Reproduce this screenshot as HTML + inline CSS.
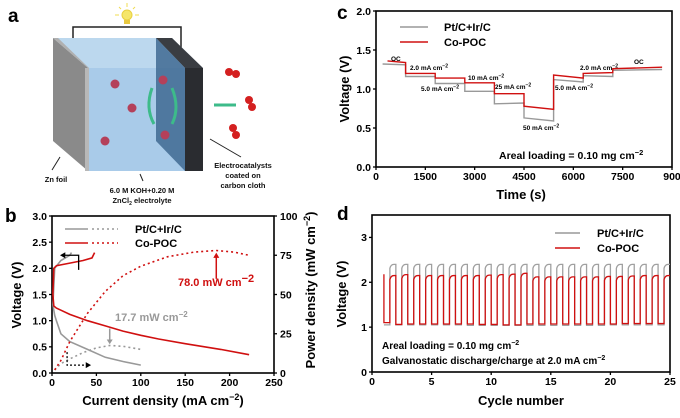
<!DOCTYPE html>
<html><head><meta charset="utf-8"><style>
body{margin:0;background:#fff}
svg{font-family:"Liberation Sans",Arial,sans-serif;font-weight:bold}
</style></head><body>
<svg id="s" width="680" height="413" viewBox="0 0 680 413" xmlns="http://www.w3.org/2000/svg">
<!-- Panel a illustration -->
<g>
<text x="8" y="22" font-size="19">a</text>
<polyline points="73,52 73,27 181,27 181,52" fill="none" stroke="#222" stroke-width="1.5"/>
<circle cx="127" cy="15" r="5" fill="#f5e66a" stroke="#e8d040"/>
<rect x="124" y="20" width="6" height="4" fill="#e8c840"/>
<g stroke="#f0dc50" stroke-width="1"><line x1="127" y1="3" x2="127" y2="7"/><line x1="115" y1="15" x2="119" y2="15"/><line x1="135" y1="15" x2="139" y2="15"/><line x1="119" y1="7" x2="121" y2="9"/><line x1="135" y1="7" x2="133" y2="9"/></g>
<polygon points="53,38 172,38 203,68 88,68" fill="#bcd8ee"/>
<rect x="88" y="68" width="115" height="103" fill="#a9cbe9"/>
<polygon points="156,38 172,38 203,68 185,68" fill="#3a3d42"/>
<rect x="185" y="68" width="18" height="103" fill="#2a2c30"/>
<polygon points="156,38 185,68 185,171 156,141" fill="#3f6a92" opacity="0.85"/>
<polygon points="53,38 88,68 88,171 53,141" fill="#8a8a8a"/>
<polygon points="53,38 58,38 89,68 88,68" fill="#b0b0b0"/>
<rect x="85" y="68" width="4" height="103" fill="#b8b8b8"/>
<g fill="#b4405a"><circle cx="115" cy="84" r="4.5"/><circle cx="132" cy="108" r="4.5"/><circle cx="105" cy="141" r="4.5"/><circle cx="163" cy="80" r="4.5"/><circle cx="165" cy="135" r="4.5"/></g>
<g fill="#d42020"><circle cx="229" cy="72" r="4"/><circle cx="236" cy="74" r="4"/><circle cx="249" cy="100" r="4"/><circle cx="252" cy="107" r="4"/><circle cx="233" cy="128" r="4"/><circle cx="236" cy="135" r="4"/></g>
<g stroke="#3dbb8a" stroke-width="3" fill="none"><path d="M152,88 Q145,108 154,124"/><path d="M172,88 Q180,108 172,124"/><line x1="214" y1="105" x2="236" y2="105"/></g>
<g stroke="#222" stroke-width="1"><line x1="60" y1="157" x2="52" y2="170"/><line x1="140" y1="174" x2="143" y2="181"/><line x1="210" y1="139" x2="241" y2="157"/></g>
<g font-size="7.5" text-anchor="middle" fill="#111">
<text x="56" y="182">Zn foil</text>
<text x="142" y="193">6.0 M KOH+0.20 M</text>
<text x="142" y="203">ZnCl<tspan font-size="5" dy="2">2</tspan><tspan dy="-2"> electrolyte</tspan></text>
<text x="243" y="168">Electrocatalysts</text>
<text x="243" y="178">coated on</text>
<text x="243" y="188">carbon cloth</text>
</g>
</g>
<g id="pb"></g>
<g id="pc"></g>
<g id="pd"></g>
</svg>
<script>
// ---- Panel b data ----
const bRedDisX=[1,2,5,10,20,40,60,80,100,120,150,190,222];
const bRedDisV=[1.5,1.28,1.24,1.2,1.12,1.0,0.9,0.8,0.72,0.65,0.56,0.45,0.35];
const bRedChX=[1,1.5,2,5,20,35,45,48];
const bRedChV=[1.5,1.75,2.0,2.05,2.1,2.15,2.2,2.3];
const bGrayDisX=[1,3,5,10,20,40,60,80,100];
const bGrayDisV=[1.3,1.1,1.0,0.75,0.6,0.45,0.3,0.22,0.15];
const bGrayChX=[1,3,10,20,22];
const bGrayChV=[1.3,2.0,2.15,2.25,2.3];
const bRedPX=[3,10,20,40,60,80,100,130,160,185,205,222];
const bRedP=[2,8,20,38,52,62,68,74,77,78,77,75];
const bGrayPX=[3,10,20,35,50,65,80,100];
const bGrayP=[2,6,9,13,16,17.5,17,15];
const bXTicks=[0,50,100,150,200,250];
const bYTicks=[0.0,0.5,1.0,1.5,2.0,2.5,3.0];
const bY2Ticks=[0,25,50,75,100];
// ---- Panel c data ----
const cGrayT=[200,900,900,1800,1800,2700,2700,3600,3600,4500,4500,5400,5400,6300,6300,7200,7200,8700];
const cGrayV=[1.32,1.31,1.16,1.16,1.07,1.07,0.97,0.97,0.81,0.82,0.63,0.59,1.12,1.09,1.17,1.16,1.24,1.25];
const cRedT=[350,900,900,1800,1800,2700,2700,3600,3600,4500,4500,5400,5400,6300,6300,7200,7200,8700];
const cRedV=[1.36,1.34,1.2,1.2,1.14,1.14,1.08,1.08,0.94,0.94,0.78,0.74,1.18,1.14,1.2,1.21,1.26,1.28];
const cXTicks=[0,1500,3000,4500,6000,7500,9000];
const cYTicks=[0.0,0.5,1.0,1.5,2.0];
// ---- Panel d data ----
const dCycles=[1,2,3,4,5,6,7,8,9,10,11,12,13,14,15,16,17,18,19,20,21,22,23,24];
const dRedHigh=[2.15,2.17,2.15,2.15,2.15,2.15,2.15,2.15,2.16,2.17,2.18,2.2,2.12,2.12,2.12,2.12,2.12,2.12,2.13,2.13,2.14,2.15,2.15,2.15];
const dRedLow=[1.1,1.06,1.07,1.07,1.07,1.07,1.07,1.07,1.06,1.06,1.05,1.05,1.07,1.07,1.07,1.07,1.07,1.07,1.07,1.07,1.08,1.08,1.08,1.08];
const dGrayHigh=[2.4,2.4,2.4,2.4,2.4,2.4,2.4,2.4,2.4,2.4,2.4,2.4,2.4,2.4,2.4,2.4,2.4,2.4,2.4,2.4,2.4,2.4,2.4,2.4];
const dGrayLow=[1.05,1.05,1.05,1.05,1.05,1.05,1.05,1.04,1.04,1.04,1.04,1.04,1.04,1.04,1.04,1.04,1.04,1.04,1.04,1.05,1.05,1.05,1.05,1.05];
const dXTicks=[0,5,10,15,20,25];
const dYTicks=[0,1,2,3];

const NS="http://www.w3.org/2000/svg";
function mk(parent,tag,attrs,text){const e=document.createElementNS(NS,tag);for(const k in attrs)e.setAttribute(k,attrs[k]);if(text!==undefined)e.textContent=text;parent.appendChild(e);return e;}
function lin(d0,d1,r0,r1){return v=>r0+(v-d0)/(d1-d0)*(r1-r0);}
function pts(xs,ys,fx,fy){return xs.map((x,i)=>fx(x).toFixed(1)+","+fy(ys[i]).toFixed(1)).join(" ");}
function axes(g,L,R,T,B,fx,fy,xt,yt,xfmt,yfmt){
  const f=mk(g,'rect',{x:L,y:T,width:R-L,height:B-T,fill:'none',stroke:'#000','stroke-width':1.6});
  
  
  xt.forEach(v=>{const x=fx(v);mk(g,'line',{x1:x,y1:B,x2:x,y2:B+3,stroke:'#000','stroke-width':1.3});
    const t=mk(g,'text',{x:x,y:B+13,'font-size':10.5,'text-anchor':'middle'},xfmt(v));
    
    });
  yt.forEach(v=>{const y=fy(v);mk(g,'line',{x1:L-3,y1:y,x2:L,y2:y,stroke:'#000','stroke-width':1.3});
    const t=mk(g,'text',{x:L-5,y:y+3.8,'font-size':10.5,'text-anchor':'end'},yfmt(v));
    
    });
}
// ---------- Panel b ----------
(function(){
const g=document.getElementById('pb');const L=52,R=274,T=216,B=373;
const fx=lin(0,250,L,R),fy=lin(0,3,B,T),fp=lin(0,100,B,T);
mk(g,'text',{x:5,y:222,'font-size':19},'b');
axes(g,L,R,T,B,fx,fy,bXTicks,bYTicks,v=>String(v),v=>v.toFixed(1));
bY2Ticks.forEach(v=>{const y=fp(v);mk(g,'line',{x1:R,y1:y,x2:R+3,y2:y,stroke:'#000','stroke-width':1.3});
  const t=mk(g,'text',{x:R+6,y:y+3.8,'font-size':10.5},String(v));
  
  });
const l1=mk(g,'polyline',{points:pts(bGrayDisX,bGrayDisV,fx,fy),fill:'none',stroke:'#999','stroke-width':1.6});


const l2=mk(g,'polyline',{points:pts(bGrayChX,bGrayChV,fx,fy),fill:'none',stroke:'#999','stroke-width':1.6});


const l3=mk(g,'polyline',{points:pts(bGrayPX,bGrayP,fx,fp),fill:'none',stroke:'#999','stroke-width':1.6,'stroke-dasharray':'2,3'});


const l4=mk(g,'polyline',{points:pts(bRedDisX,bRedDisV,fx,fy),fill:'none',stroke:'#d01010','stroke-width':1.6});


const l5=mk(g,'polyline',{points:pts(bRedChX,bRedChV,fx,fy),fill:'none',stroke:'#d01010','stroke-width':1.6});


const l6=mk(g,'polyline',{points:pts(bRedPX,bRedP,fx,fp),fill:'none',stroke:'#d01010','stroke-width':1.6,'stroke-dasharray':'2,3'});


// arrows
mk(g,'polyline',{points:`${fx(30)},${fy(1.97)} ${fx(30)},${fy(2.25)} ${fx(14)},${fy(2.25)}`,fill:'none',stroke:'#000','stroke-width':1.3});
mk(g,'polygon',{points:`${fx(9)},${fy(2.25)} ${fx(15)},${fy(2.25)-3} ${fx(15)},${fy(2.25)+3}`,fill:'#000'});
mk(g,'polyline',{points:`${fx(17)},${fy(0.4)} ${fx(17)},${fy(0.15)} ${fx(38)},${fy(0.15)}`,fill:'none',stroke:'#000','stroke-width':1.3,'stroke-dasharray':'2,2'});
mk(g,'polygon',{points:`${fx(44)},${fy(0.15)} ${fx(38)},${fy(0.15)-3} ${fx(38)},${fy(0.15)+3}`,fill:'#000'});
mk(g,'line',{x1:fx(185),y1:fy(1.8),x2:fx(185),y2:fy(2.22),stroke:'#d01010','stroke-width':1.5});
mk(g,'polygon',{points:`${fx(185)},${fy(2.3)} ${fx(185)-3},${fy(2.2)} ${fx(185)+3},${fy(2.2)}`,fill:'#d01010'});
mk(g,'line',{x1:fx(65),y1:fy(0.85),x2:fx(65),y2:fy(0.62),stroke:'#999','stroke-width':1.5});
mk(g,'polygon',{points:`${fx(65)},${fy(0.55)} ${fx(65)-3},${fy(0.64)} ${fx(65)+3},${fy(0.64)}`,fill:'#999'});
mk(g,'text',{x:178,y:286,'font-size':11,fill:'#d01010'},'78.0 mW cm').appendChild(Object.assign(document.createElementNS(NS,'tspan'),{textContent:'−2'})).setAttribute('dy','-4');
const t2=mk(g,'text',{x:115,y:321,'font-size':11,fill:'#999'},'17.7 mW cm');const s2=mk(t2,'tspan',{dy:-4,'font-size':8},'−2');
g.querySelector('text:last-of-type');
// legend
const lg=mk(g,'g',{});
mk(lg,'line',{x1:65,y1:229,x2:88,y2:229,stroke:'#999','stroke-width':1.6});
mk(lg,'line',{x1:92,y1:229,x2:118,y2:229,stroke:'#999','stroke-width':1.6,'stroke-dasharray':'2,3'});
mk(lg,'line',{x1:65,y1:243,x2:88,y2:243,stroke:'#d01010','stroke-width':1.6});
mk(lg,'line',{x1:92,y1:243,x2:118,y2:243,stroke:'#d01010','stroke-width':1.6,'stroke-dasharray':'2,3'});
mk(lg,'text',{x:135,y:233,'font-size':11},'Pt/C+Ir/C');
mk(lg,'text',{x:135,y:247,'font-size':11},'Co-POC');
const xt=mk(g,'text',{x:163,y:405,'font-size':13,'text-anchor':'middle'},'Current density (mA cm');mk(xt,'tspan',{dy:-5,'font-size':9},'−2');mk(xt,'tspan',{dy:5},')');

const yt=mk(g,'text',{transform:'translate(21,295) rotate(-90)','font-size':13,'text-anchor':'middle'},'Voltage (V)');

const y2=mk(g,'text',{transform:'translate(315,290) rotate(-90)','font-size':13,'text-anchor':'middle'},'Power density (mW cm');mk(y2,'tspan',{dy:-5,'font-size':9},'−2');mk(y2,'tspan',{dy:5},')');

})();
// ---------- Panel c ----------
(function(){
const g=document.getElementById('pc');const L=376,R=672,T=11,B=167;
const fx=lin(0,9000,L,R),fy=lin(0,2,B,T);
mk(g,'text',{x:337,y:19,'font-size':19},'c');
axes(g,L,R,T,B,fx,fy,cXTicks,cYTicks,v=>v===9000?'900':String(v),v=>v.toFixed(1));
const a=mk(g,'polyline',{points:pts(cGrayT,cGrayV,fx,fy),fill:'none',stroke:'#999','stroke-width':1.4});

const b=mk(g,'polyline',{points:pts(cRedT,cRedV,fx,fy),fill:'none',stroke:'#d01010','stroke-width':1.4});

const ann=[[391,61,'OC',0],[410,70,'2.0 mA cm',1],[421,91,'5.0 mA cm',1],[468,80,'10 mA cm',1],[495,89,'25 mA cm',1],[523,130,'50 mA cm',1],[555,90,'5.0 mA cm',1],[580,70,'2.0 mA cm',1],[634,64,'OC',0]];
ann.forEach(([x,y,s,e])=>{const t=mk(g,'text',{x:x-340+340,y:y,'font-size':6.5},s);if(e)mk(t,'tspan',{dy:-2.5,'font-size':5},'−2');
  });
mk(g,'line',{x1:400,y1:27,x2:428,y2:27,stroke:'#999','stroke-width':1.6});
mk(g,'line',{x1:400,y1:42,x2:428,y2:42,stroke:'#d01010','stroke-width':1.6});
mk(g,'text',{x:444,y:31,'font-size':11},'Pt/C+Ir/C');
mk(g,'text',{x:444,y:46,'font-size':11},'Co-POC');
const al=mk(g,'text',{x:499,y:159,'font-size':10.5},'Areal loading = 0.10 mg cm');mk(al,'tspan',{dy:-4,'font-size':7.5},'−2');
mk(g,'text',{x:521,y:199,'font-size':13,'text-anchor':'middle'},'Time (s)');
mk(g,'text',{transform:'translate(349,89) rotate(-90)','font-size':13,'text-anchor':'middle'},'Voltage (V)');
})();
// ---------- Panel d ----------
(function(){
const g=document.getElementById('pd');const L=372,R=670,T=215,B=372;
const fx=lin(0,25,L,R),fy=lin(0,3.5,B,T);
mk(g,'text',{x:337,y:220,'font-size':19},'d');
axes(g,L,R,T,B,fx,fy,dXTicks,dYTicks,v=>String(v),v=>String(v));
function sq(high,low,isRed){let d='';dCycles.forEach((c,i)=>{
  const x0=fx(c),xm=fx(c+0.5),x1=fx(c+1),yl=fy(low[i]),yh=fy(high[i]);
  if(i===0) d+=`M${x0},${isRed?fy(2.18):yl} L${x0},${yl} `;
  d+=`L${xm},${yl} L${xm},${yh+4} Q${xm+1},${yh} ${xm+4},${yh} L${x1},${yh} L${x1},${i<dCycles.length-1?fy(low[i+1]):yh} `;});return d;}
const a=mk(g,'path',{d:sq(dGrayHigh,dGrayLow,false),fill:'none',stroke:'#a0a0a0','stroke-width':1.3});

const b=mk(g,'path',{d:sq(dRedHigh,dRedLow,true),fill:'none',stroke:'#d01010','stroke-width':1.3});

mk(g,'line',{x1:555,y1:233,x2:580,y2:233,stroke:'#999','stroke-width':1.6});
mk(g,'line',{x1:555,y1:248,x2:580,y2:248,stroke:'#d01010','stroke-width':1.6});
mk(g,'text',{x:597,y:237,'font-size':11},'Pt/C+Ir/C');
mk(g,'text',{x:597,y:252,'font-size':11},'Co-POC');
const t1=mk(g,'text',{x:382,y:349,'font-size':10},'Areal loading = 0.10 mg cm');mk(t1,'tspan',{dy:-4,'font-size':7},'−2');
const t2=mk(g,'text',{x:382,y:364,'font-size':10},'Galvanostatic discharge/charge at 2.0 mA cm');mk(t2,'tspan',{dy:-4,'font-size':7},'−2');
mk(g,'text',{x:521,y:405,'font-size':13,'text-anchor':'middle'},'Cycle number');
mk(g,'text',{transform:'translate(346,294) rotate(-90)','font-size':13,'text-anchor':'middle'},'Voltage (V)');
})();
</script>
</body></html>
